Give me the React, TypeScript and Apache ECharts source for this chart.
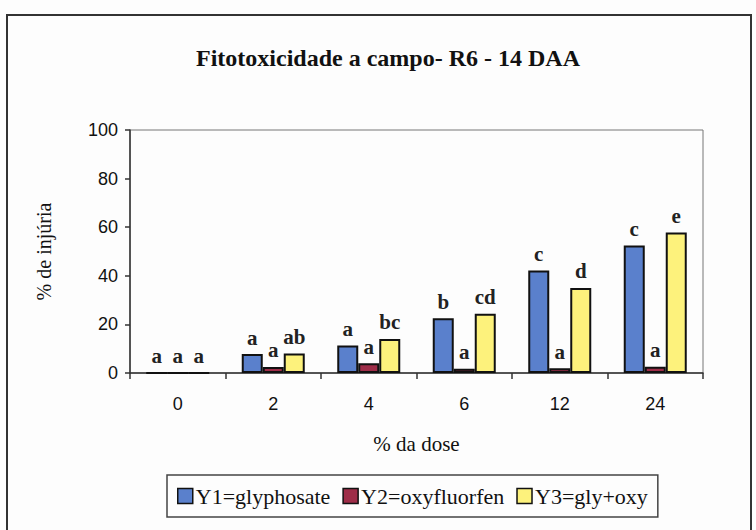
import React, { useEffect, useRef } from "react";
import * as echarts from "echarts";

const categories = ["0", "2", "4", "6", "12", "24"];
const glyphosate = [0, 7.8, 11.3, 22.5, 42.2, 52.5];
const oxyfluorfen = [0, 2.5, 4, 1.8, 2, 2.6];
const glyOxy = [0, 8, 14, 24.4, 35, 57.8];
const glyLetters = ["a", "a", "a", "b", "c", "c"];
const oxyLetters = ["a", "a", "a", "a", "a", "a"];
const mixLetters = ["a", "ab", "bc", "cd", "d", "e"];
const seriesNames = ["Y1=glyphosate", "Y2=oxyfluorfen", "Y3=gly+oxy"];
const yTicks = [0, 20, 40, 60, 80, 100];

const serif = "Times New Roman, Liberation Serif, serif";
const sans = "Arial, Liberation Sans, sans-serif";

export default function App() {
  const ref = useRef<HTMLDivElement>(null);
  useEffect(() => {
    if (!ref.current) return;
    const chart = echarts.init(ref.current, null, { renderer: "svg" });
    const mk = (name: string, data: number[], letters: string[], color: string) => ({
      name,
      type: "bar",
      data,
      barWidth: 21,
      barGap: "0%",
      itemStyle: { color, borderColor: "#111", borderWidth: 2 },
      label: {
        show: true,
        position: "top",
        distance: 6,
        formatter: (p: any) => letters[p.dataIndex],
        fontFamily: serif,
        fontWeight: "bold",
        fontSize: 21,
        color: "#222",
      },
    });
    chart.setOption({
      animation: false,
      backgroundColor: "#fdfdfd",
      title: {
        text: "Fitotoxicidade a campo- R6 - 14 DAA",
        left: 383,
        textAlign: "center",
        top: 41,
        textStyle: { fontFamily: serif, fontWeight: "bold", fontSize: 24, color: "#111" },
      },
      grid: {
        left: 130,
        right: 53,
        top: 130,
        bottom: 157,
        show: true,
        borderColor: "#777",
        borderWidth: 1,
        backgroundColor: "transparent",
      },
      legend: {
        data: seriesNames,
        left: 167,
        top: 475,
        width: 507,
        padding: [10, 10, 10, 10],
        itemGap: 12,
        itemWidth: 15,
        itemHeight: 15,
        icon: "rect",
        borderColor: "#444",
        borderWidth: 1.5,
        itemStyle: { borderColor: "#111", borderWidth: 1.5 },
        textStyle: { fontFamily: serif, fontSize: 22, color: "#111", padding: [0, 0, 0, -2] },
      },
      xAxis: {
        type: "category",
        data: categories,
        name: "% da dose",
        nameLocation: "middle",
        nameGap: 60,
        nameTextStyle: { fontFamily: serif, fontSize: 21, color: "#111" },
        axisLine: { lineStyle: { color: "#333", width: 1.5 } },
        axisTick: { show: true, length: 6, lineStyle: { color: "#333", width: 1.5 } },
        axisLabel: { fontFamily: sans, fontSize: 18, color: "#111", margin: 22 },
      },
      yAxis: {
        type: "value",
        min: 0,
        max: 100,
        interval: 20,
        name: "% de injúria",
        nameLocation: "middle",
        nameGap: 76,
        nameTextStyle: { fontFamily: serif, fontSize: 20, color: "#111" },
        splitLine: { show: false },
        axisLine: { show: true, lineStyle: { color: "#333", width: 1.5 } },
        axisTick: { show: true, length: 5, lineStyle: { color: "#333", width: 1.5 } },
        axisLabel: {
          fontFamily: sans,
          fontSize: 18,
          color: "#111",
          margin: 12,
          formatter: (v: number) => (yTicks.includes(v) ? String(v) : ""),
        },
      },
      graphic: [
        {
          type: "rect",
          shape: { x: 7, y: 15, width: 744, height: 530 },
          style: { fill: "none", stroke: "#333", lineWidth: 2 },
          silent: true,
        },
      ],
      series: [
        mk(seriesNames[0], glyphosate, glyLetters, "#5a80cc"),
        mk(seriesNames[1], oxyfluorfen, oxyLetters, "#9e2d48"),
        mk(seriesNames[2], glyOxy, mixLetters, "#fdf27c"),
      ],
    });
    return () => chart.dispose();
  }, []);
  return <div ref={ref} style={{ width: 756, height: 530, position: "absolute", left: 0, top: 0 }} />;
}
